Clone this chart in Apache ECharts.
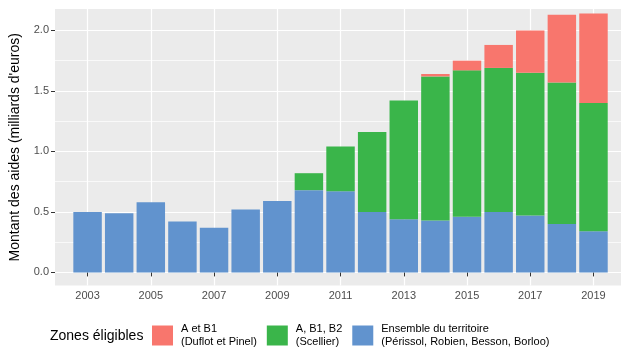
<!DOCTYPE html>
<html>
<head>
<meta charset="utf-8">
<script src="https://cdn.jsdelivr.net/npm/echarts@6/dist/echarts.min.js"></script>
<style>
  html, body { margin: 0; padding: 0; background: #fff; }
  #chart { width: 622px; height: 349px; }
</style>
</head>
<body>
<div id="chart"></div>
<script>
var years = [2003, 2004, 2005, 2006, 2007, 2008, 2009, 2010, 2011, 2012, 2013, 2014, 2015, 2016, 2017, 2018, 2019]
// Ensemble du territoire (Périssol, Robien, Besson, Borloo)
var ensemble = [0.50, 0.49, 0.58, 0.42, 0.37, 0.52, 0.59, 0.68, 0.67, 0.50, 0.44, 0.43, 0.46, 0.50, 0.47, 0.40, 0.34]
// A, B1, B2 (Scellier)
var scellier = [0, 0, 0, 0, 0, 0, 0, 0.14, 0.37, 0.66, 0.98, 1.19, 1.21, 1.19, 1.18, 1.17, 1.06]
// A et B1 (Duflot et Pinel)
var pinel = [0, 0, 0, 0, 0, 0, 0, 0, 0, 0, 0, 0.02, 0.08, 0.19, 0.35, 0.56, 0.74]

var xTicks = [2003, 2005, 2007, 2009, 2011, 2013, 2015, 2017, 2019]
var yTicks = [0, 0.5, 1, 1.5, 2]
var yMinorTicks = [0.25, 0.75, 1.25, 1.75]

var seriesNames = {
  pinel: 'A et B1\n(Duflot et Pinel)',
  scellier: 'A, B1, B2\n(Scellier)',
  ensemble: 'Ensemble du territoire\n(Périssol, Robien, Besson, Borloo)'
}

// value first so that the stack goes on the y dimension
function pairs (values) {
  return years.map(function (y, i) { return [values[i], y] })
}

var chart = echarts.init(document.getElementById('chart'))

function barSeries (name, values, color) {
  return {
    name: name,
    type: 'bar',
    stack: 'total',
    barWidth: '90%',
    encode: { x: 1, y: 0 },
    itemStyle: { color: color },
    emphasis: { disabled: true },
    data: pairs(values)
  }
}

chart.setOption({
  animation: false,
  textStyle: { fontFamily: 'Liberation Sans, Arial, sans-serif' },
  grid: {
    left: 51,
    top: 9,
    width: 570,
    height: 276.5,
    show: true,
    backgroundColor: '#EBEBEB',
    borderWidth: 0
  },
  graphic: [{
    type: 'text',
    left: 50,
    top: 329,
    style: {
      text: 'Zones éligibles',
      fontSize: 14,
      fontFamily: 'Liberation Sans, Arial, sans-serif',
      fill: '#000'
    }
  }],
  legend: {
    left: 152,
    top: 323,
    padding: 0,
    orient: 'horizontal',
    icon: 'rect',
    itemWidth: 21,
    itemHeight: 20,
    itemGap: 10,
    selectedMode: false,
    data: [seriesNames.pinel, seriesNames.scellier, seriesNames.ensemble],
    textStyle: {
      fontSize: 11,
      lineHeight: 12.5,
      color: '#000',
      padding: [0, 0, 0, 3]
    }
  },
  xAxis: {
    type: 'value',
    min: 2001.97,
    max: 2019.87,
    axisLine: { show: false },
    axisTick: {
      show: true,
      length: 4,
      customValues: xTicks,
      lineStyle: { color: '#333', width: 1 }
    },
    axisLabel: {
      customValues: xTicks,
      margin: 5,
      fontSize: 11,
      color: '#4D4D4D',
      formatter: function (v) { return String(v) }
    },
    splitLine: { show: true, lineStyle: { color: '#fff', width: 1.2 } }
  },
  yAxis: [{
    type: 'value',
    min: -0.108,
    max: 2.177,
    name: "Montant des aides (milliards d'euros)",
    nameLocation: 'middle',
    nameGap: 33,
    nameTextStyle: { fontSize: 14, color: '#000' },
    axisLine: { show: false },
    axisTick: {
      show: true,
      length: 4,
      customValues: yTicks,
      lineStyle: { color: '#333', width: 1 }
    },
    axisLabel: {
      customValues: yTicks,
      margin: 6,
      fontSize: 11,
      color: '#4D4D4D',
      formatter: function (v) { return v.toFixed(1) }
    },
    splitLine: { show: true, lineStyle: { color: '#fff', width: 1.2 } }
  }, {
    type: 'value',
    min: -0.108,
    max: 2.177,
    axisLine: { show: false },
    axisTick: { show: false, customValues: yMinorTicks },
    axisLabel: { show: false, customValues: yMinorTicks },
    splitLine: { show: true, lineStyle: { color: '#fff', width: 0.7 } }
  }],
  series: [
    barSeries(seriesNames.ensemble, ensemble, '#6193CE'),
    barSeries(seriesNames.scellier, scellier, '#3AB54A'),
    barSeries(seriesNames.pinel, pinel, '#F8766D')
  ]
})
</script>
</body>
</html>
